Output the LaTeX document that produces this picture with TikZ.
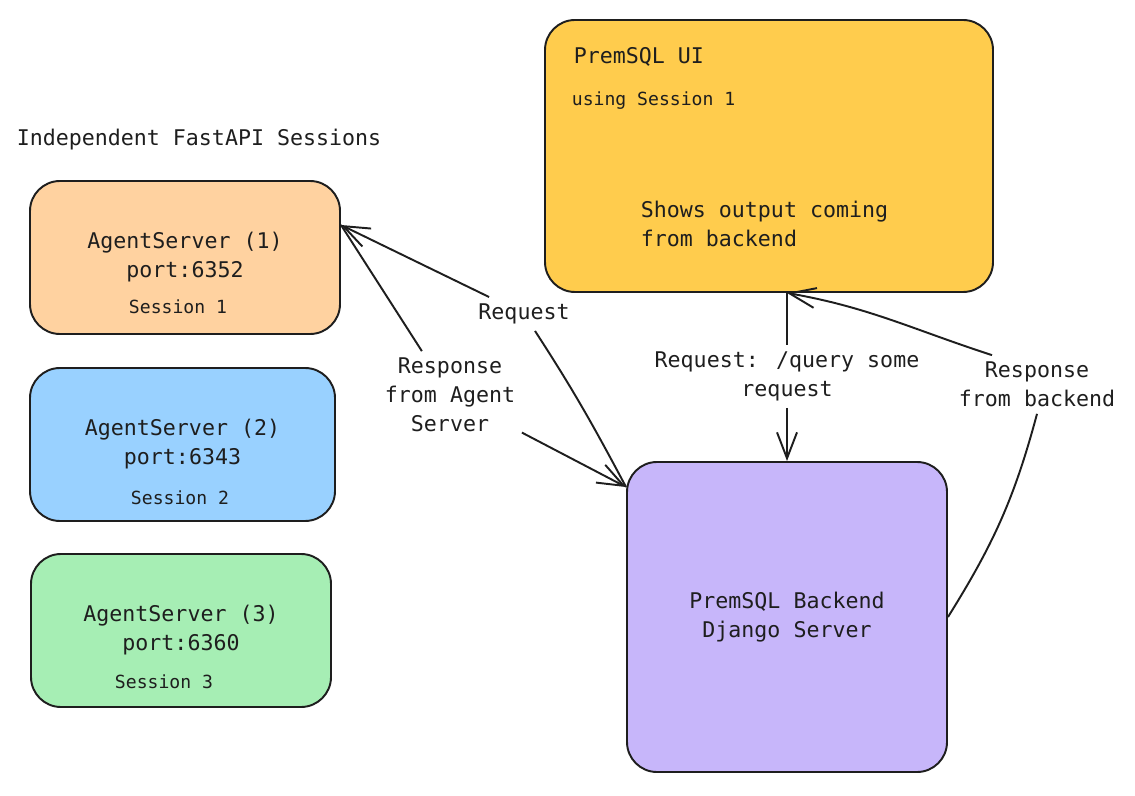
\documentclass[tikz,border=0pt]{standalone}
\usepackage{fontspec}
\setmainfont{DejaVu Sans Mono}
\usepackage{tikz}
\usetikzlibrary{calc,arrows.meta}

\definecolor{ink}{RGB}{30,30,30}
\definecolor{peach}{RGB}{255,210,160}
\definecolor{sky}{RGB}{153,209,255}
\definecolor{mint}{RGB}{166,238,180}
\definecolor{gold}{RGB}{255,204,77}
\definecolor{lilac}{RGB}{199,182,250}

\newcommand{\bigtxt}{\fontsize{12.3}{16.5}\selectfont}
\newcommand{\smalltxt}{\fontsize{10.3}{13}\selectfont}

\begin{document}
\begin{tikzpicture}[
        >={Straight Barb[length=5.2mm,width=4mm]},
        line width=1.1pt, color=ink,
        box/.style={draw, rounded corners=0.6cm, align=center, font=\bigtxt},
        lbl/.style={align=center, font=\bigtxt},
        note/.style={font=\smalltxt}
    ]
    \useasboundingbox (0, 0) rectangle (22.7, 15.9);

    % agent servers
    \node [lbl] (title) at (3.98, 13.1) {Independent FastAPI Sessions};
    \node [box, fill=peach, minimum width=6.2cm, minimum height=3.06cm] (A1) at (3.7, 10.75) {AgentServer (1)\\port:6352};
    \node [box, fill=sky, minimum width=6.1cm, minimum height=3.06cm] (A2) at (3.65, 7.01) {AgentServer (2)\\port:6343};
    \node [box, fill=mint, minimum width=6.0cm, minimum height=3.06cm] (A3) at (3.62, 3.29) {AgentServer (3)\\port:6360};
    \node [note] (S1) at ($(A1) + (-0.14, -0.99)$) {Session 1};
    \node [note] (S2) at ($(A2) + (-0.05, -1.07)$) {Session 2};
    \node [note] (S3) at ($(A3) + (-0.34, -1.03)$) {Session 3};

    % ui and backend
    \node [box, fill=gold, minimum width=8.96cm, minimum height=5.44cm] (UI) at (15.38, 12.78) {};
    \node [lbl, anchor=west] (uiname) at ($(UI.north west) + (0.46, -0.76)$) {PremSQL UI};
    \node [note, anchor=west] (uisess) at ($(UI.north west) + (0.42, -1.63)$) {using Session 1};
    \node [lbl, anchor=west, align=left] (uiout) at ($(UI.north west) + (1.80, -4.09)$) {Shows output coming\\from backend};
    \node [box, fill=lilac, minimum width=6.4cm, minimum height=6.2cm] (BE) at (15.74, 3.56) {PremSQL Backend\\Django Server};

    % connector labels
    \node [lbl] (req) at (10.48, 9.62) {Request};
    \node [lbl] (resp) at (9.0, 8.0) {Response\\from Agent\\Server};
    \node [lbl] (query) at (15.74, 8.37) {Request: /query some\\request};
    \node [lbl] (back) at (20.74, 8.21) {Response\\from backend};

    \coordinate (a1port) at ($(A1.east) + (0, 0.65)$);
    \coordinate (beport) at ($(BE.north west) + (0, -0.52)$);
    \coordinate (uiport) at (BE.north |- UI.south);

    \draw [->] (beport) to [out=118, in=-57] (req) -- (a1port);
    \draw [->] (a1port) -- (resp) -- (beport);
    \draw [->] (uiport) -- (query) -- (BE.north);
    \draw [->] (BE.east) to [out=58, in=-105] (back.south) ($(back.north) + (-0.9, 0)$) to [out=162, in=-10] (uiport);
\end{tikzpicture}
\end{document}
